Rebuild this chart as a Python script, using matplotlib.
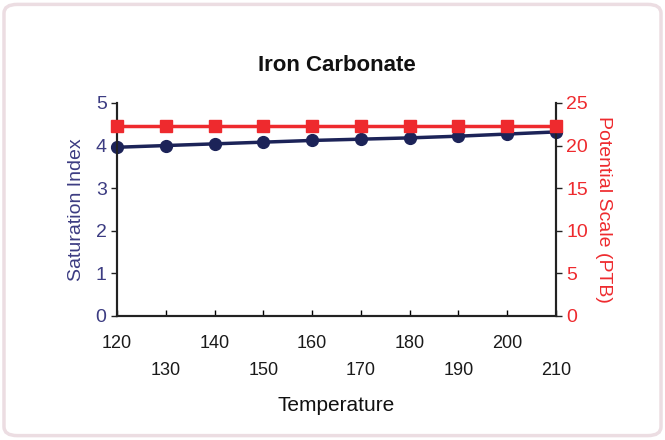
import matplotlib
matplotlib.use('Agg')
import matplotlib.pyplot as plt
from matplotlib.patches import FancyBboxPatch

plt.rcParams['font.family'] = ['Liberation Sans', 'DejaVu Sans']

temperature = [120, 130, 140, 150, 160, 170, 180, 190, 200, 210]
saturation_index = [3.96, 4.00, 4.04, 4.08, 4.12, 4.15, 4.18, 4.22, 4.27, 4.32]
potential_ptb = [22.3, 22.3, 22.3, 22.3, 22.3, 22.3, 22.3, 22.3, 22.3, 22.3]

# even temperatures on the first row, odd ones dropped to a second row
x_labels = [str(t) if i % 2 == 0 else '\n' + str(t) for i, t in enumerate(temperature)]

BLUE = '#1c2358'
BLUE_TXT = '#3c3c82'
RED = '#ee2a2e'

fig = plt.figure(figsize=(6.65, 4.4), dpi=100, facecolor='white')
border = FancyBboxPatch((0.006, 0.01), 0.988, 0.98, boxstyle='round,pad=0,rounding_size=0.02',
                        transform=fig.transFigure, facecolor='none',
                        edgecolor='#ecdde2', linewidth=2.5, zorder=-1)
fig.patches.append(border)

ax = fig.add_axes([0.176, 0.282, 0.660, 0.484])
ax.set_facecolor('none')
ax2 = ax.twinx()

ax.plot(temperature, saturation_index, color=BLUE, linewidth=2.5, marker='o',
        markersize=8.5, zorder=3, clip_on=False)
ax2.plot(temperature, potential_ptb, color=RED, linewidth=2.5, marker='s',
         markersize=8.5, zorder=3, clip_on=False)

ax.set_xlim(120, 210)
ax.set_ylim(0, 5)
ax2.set_ylim(0, 25)

ax.set_xticks(temperature)
ax.set_xticklabels(x_labels, fontsize=13, color='#1a1a1a', linespacing=1.75,
                   fontweight='medium')
ax.set_yticks(range(0, 6))
ax.tick_params(axis='y', colors=BLUE_TXT, labelsize=14, length=4, width=1)
ax.tick_params(axis='x', length=4, width=1, direction='in', pad=14)
ax2.set_yticks(range(0, 26, 5))
ax2.tick_params(axis='y', colors=RED, labelsize=14, length=4, width=1)
for a in (ax, ax2):
    a.tick_params(axis='y', color='#222222')
    a.spines['top'].set_visible(False)
    for side in ('left', 'right', 'bottom'):
        a.spines[side].set_color('#222222')
        a.spines[side].set_linewidth(1.5)

ax.set_ylabel('Saturation Index', fontsize=14, color=BLUE_TXT, labelpad=8)
ax2.set_ylabel('Potential Scale (PTB)', fontsize=14, color=RED, rotation=270, labelpad=17)
ax.set_xlabel('Temperature', fontsize=15, color='#111111', labelpad=12)
ax.set_title('Iron Carbonate', fontsize=16, fontweight='bold', color='#111111', pad=23)

fig.savefig('out.png', dpi=100)
